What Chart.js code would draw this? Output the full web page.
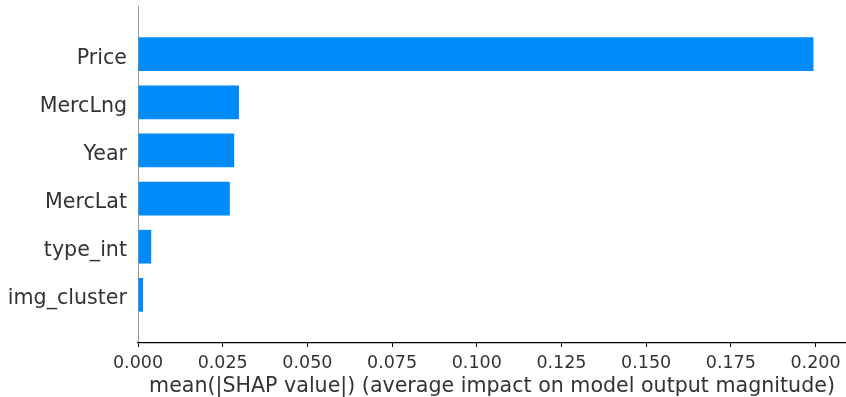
<!DOCTYPE html>
<html>
<head>
<meta charset="utf-8">
<script src="https://cdn.jsdelivr.net/npm/chart.js@4/dist/chart.umd.min.js"></script>
<style>
  html, body { margin: 0; padding: 0; background: #fff; }
  #wrap { width: 846px; height: 397px; }
</style>
</head>
<body>
<div id="wrap"><canvas id="c" width="846" height="397"></canvas></div>
<script>
// Features ranked by mean |SHAP value|
const features = ['Price', 'MercLng', 'Year', 'MercLat', 'type_int', 'img_cluster'];
const meanAbsShap = [0.1994, 0.0298, 0.0284, 0.0271, 0.0039, 0.0015];
const xTickValues = [0, 0.025, 0.05, 0.075, 0.1, 0.125, 0.15, 0.175, 0.2];
const xTitle = 'mean(|SHAP value|) (average impact on model output magnitude)';

// one blank slot above and below the bars leaves a full row of margin
const labels = [''].concat(features, ['']);
const values = [null].concat(meanAbsShap, [null]);

const FONT = 'DejaVu Sans';

new Chart(document.getElementById('c'), {
  type: 'bar',
  data: {
    labels: labels,
    datasets: [{
      data: values,
      backgroundColor: '#008bfb',
      borderWidth: 0,
      barPercentage: 0.7,
      categoryPercentage: 1.0
    }]
  },
  options: {
    indexAxis: 'y',
    responsive: false,
    animation: false,
    layout: { padding: { top: 6, right: 0, bottom: 0, left: 0 } },
    plugins: { legend: { display: false }, tooltip: { enabled: false } },
    scales: {
      y: {
        offset: false,
        grid: { drawOnChartArea: false, drawTicks: false },
        border: { display: true, color: '#999999', width: 1 },
        ticks: {
          autoSkip: false,
          padding: 11,
          labelOffset: 4,
          color: '#333333',
          font: { family: FONT, size: 20.6 }
        },
        afterFit: (s) => { s.width = 138; s.paddingTop = 0; s.paddingBottom = 0; }
      },
      x: {
        min: 0,
        max: 0.209,
        grid: { drawOnChartArea: false, drawTicks: true, tickLength: 4, color: '#000000' },
        border: { display: true, color: '#000000', width: 1.2 },
        afterBuildTicks: (s) => { s.ticks = xTickValues.map(v => ({ value: v })); },
        ticks: {
          padding: 6,
          color: '#333333',
          maxRotation: 0,
          font: { family: FONT, size: 17.5 },
          callback: (v) => Number(v).toFixed(3)
        },
        title: {
          display: true,
          text: xTitle,
          color: '#333333',
          padding: { top: 0, bottom: -2 },
          font: { family: FONT, size: 20.6 }
        },
        afterFit: (s) => { s.height = 54; s.paddingLeft = 0; s.paddingRight = 0; }
      }
    }
  }
});
</script>
</body>
</html>
